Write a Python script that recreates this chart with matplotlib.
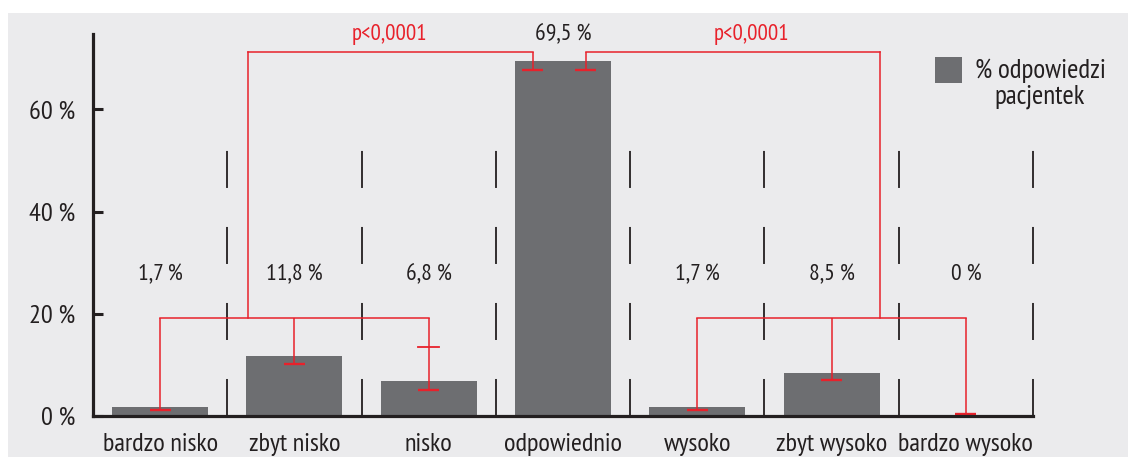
import matplotlib
matplotlib.use("Agg")
import matplotlib.pyplot as plt
from matplotlib.patches import Rectangle

# --- data -------------------------------------------------------------
categories = ["bardzo nisko", "zbyt nisko", "nisko", "odpowiednio",
              "wysoko", "zbyt wysoko", "bardzo wysoko"]
values = [1.7, 11.8, 6.8, 69.5, 1.7, 8.5, 0.0]
value_labels = ["1,7 %", "11,8 %", "6,8 %", "69,5 %", "1,7 %", "8,5 %", "0 %"]
y_ticks = [0, 20, 40, 60]
y_tick_labels = ["0 %", "20 %", "40 %", "60 %"]
legend_label = "% odpowiedzi\npacjentek"
p_label = "p<0,0001"
# lower end of each comparison arm (one per category)
arm_ends = [1.2, 10.2, 5.1, 67.7, 1.2, 7.0, 0.4]
nisko_upper_cap = 13.5

# --- style ------------------------------------------------------------
plt.rcParams["font.family"] = ["PT Sans Narrow", "DejaVu Sans"]
BAR = "#6D6E71"
INK = "#231F20"
RED = "#E8212B"
PANEL = "#EBEBED"

W, H = 1128, 457
fig = plt.figure(figsize=(W / 100, H / 100), dpi=100)
fig.patch.set_facecolor("white")
fig.patches.append(Rectangle((8 / W, 0), 1, 1 - 13 / H, transform=fig.transFigure,
                             facecolor=PANEL, edgecolor="none", zorder=-10))

ax = fig.add_axes([93 / W, 1 - 416 / H, 940 / W, 382 / H])
ax.set_facecolor("none")
x = list(range(len(categories)))
ax.set_xlim(-0.5, len(categories) - 0.5)
ax.set_ylim(0, 74.75)

ax.bar(x, values, width=0.715, color=BAR, zorder=2)

# dashed separators between categories
ax.vlines([i + 0.5 for i in x], 0, 52.05, colors=INK, linewidth=1.3,
          linestyles=[(0, (20.5, 21.6))], clip_on=False, zorder=1)

# value labels
for i, lab in enumerate(value_labels):
    y = 74.6 if values[i] > 50 else 27.6
    ax.text(i, y, lab, ha="center", va="center", fontsize=17, color=INK,
            clip_on=False)

# comparison brackets
cap = 0.078
lw_line = 1.1


def arm(xx, y_from, y_to):
    ax.plot([xx, xx], [y_from, y_to], color=RED, lw=lw_line, zorder=4,
            solid_capstyle="butt", clip_on=False)
    ax.plot([xx - cap, xx + cap], [y_to, y_to], color=RED, lw=1.7, zorder=4,
            solid_capstyle="butt", clip_on=False)


def hline(x0, x1, y):
    ax.plot([x0, x1], [y, y], color=RED, lw=lw_line, zorder=4, clip_on=False)


def vline(xx, y0, y1):
    ax.plot([xx, xx], [y0, y1], color=RED, lw=lw_line, zorder=4, clip_on=False)


group_y = 19.2
top_y = 71.2

# low side: bardzo nisko / zbyt nisko / nisko vs odpowiednio
hline(0, 2, group_y)
for i in (0, 1, 2):
    arm(i, group_y, arm_ends[i])
ax.plot([2 - cap, 2 + cap], [nisko_upper_cap] * 2, color=RED, lw=1.3, zorder=4)
left_join, left_end = 0.654, 2.776
vline(left_join, group_y, top_y)
hline(left_join, left_end, top_y)
arm(left_end, top_y, arm_ends[3])

# high side: odpowiednio vs wysoko / zbyt wysoko / bardzo wysoko
right_start, right_join = 3.171, 5.36
arm(right_start, top_y, arm_ends[3])
hline(right_start, right_join, top_y)
vline(right_join, top_y, group_y)
hline(4, 6, group_y)
for i in (4, 5, 6):
    arm(i, group_y, arm_ends[i])

ax.text(1.71, 74.6, p_label, ha="center", va="center", color=RED,
        fontsize=16.5, clip_on=False)
ax.text(4.40, 74.6, p_label, ha="center", va="center", color=RED,
        fontsize=16.5, clip_on=False)

# axes
for s in ("top", "right"):
    ax.spines[s].set_visible(False)
for s in ("left", "bottom"):
    ax.spines[s].set_color(INK)
    ax.spines[s].set_linewidth(2.3)
    ax.spines[s].set_zorder(5)

ax.set_yticks(y_ticks)
ax.set_yticklabels(y_tick_labels)
ax.tick_params(axis="y", direction="in", length=7, width=2.2, color=INK,
               labelsize=19, labelcolor=INK, pad=13)
ax.set_xticks(x)
ax.set_xticklabels(categories)
ax.tick_params(axis="x", length=0, labelsize=19, labelcolor=INK, pad=12)

# legend key
fig.patches.append(Rectangle((935 / W, 1 - 83 / H), 27 / W, 26 / H,
                             transform=fig.transFigure, facecolor=BAR,
                             edgecolor="none"))
fig.text(1040 / W, 1 - 84 / H, legend_label, ha="center", va="center",
         multialignment="center", fontsize=19.5, color=INK, linespacing=1.05)

fig.savefig("out.png", dpi=100)
